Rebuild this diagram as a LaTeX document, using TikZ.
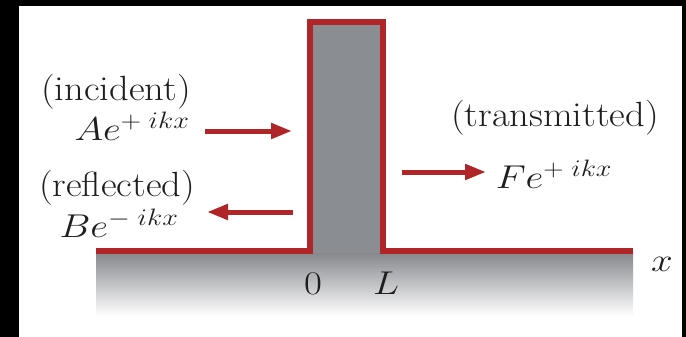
\RequirePackage{fix-cm}
\documentclass[tikz,border=0pt]{standalone}
\usepackage{fontspec}
\usepackage{graphicx}
\usetikzlibrary{arrows.meta}
\def\defaultscriptratio{.72}
\definecolor{potred}{RGB}{176,38,40}
\definecolor{bargray}{RGB}{138,141,146}
\definecolor{floortop}{RGB}{132,134,138}
\definecolor{floormid}{RGB}{176,178,181}
\definecolor{inkgray}{RGB}{30,30,30}
\newcommand\wide[1]{\scalebox{1.1}[1]{#1}}
\newcommand\widem[1]{\scalebox{1.18}[1]{#1}}
\tikzset{
  lbl/.style={inner sep=0pt, anchor=base, text=inkgray, font=\fontsize{35}{40}\selectfont\addfontfeatures{FakeBold=0.6}},
  mlbl/.style={inner sep=0pt, anchor=base, text=inkgray, font=\fontsize{33}{40}\selectfont},
  wave/.style={draw=potred, line width=5pt, -{Triangle[width=15pt,length=21pt]}},
  pot/.style={draw=potred, line width=5.5pt, line join=miter},
}
\begin{document}
\begin{tikzpicture}[x=1pt,y=-1pt]
  % frame
  \fill[black] (0,0) rectangle (686,337);
  \fill[white] (19,6) rectangle (682,337);
  \useasboundingbox (0,0) rectangle (686,337);
  % floor and barrier
  \shade[top color=floortop, middle color=floormid, bottom color=white] (96,252) rectangle (633,316);
  \fill[bargray] (310,22) rectangle (383,253);
  \draw[pot] (96,251) -- (310,251) -- (310,22) -- (383,22) -- (383,251) -- (633,251);
  % arrows
  \coordinate (incS) at (205,131);
  \coordinate (incE) at (292,131);
  \coordinate (refS) at (293,212);
  \coordinate (refE) at (207,212);
  \coordinate (traS) at (402,172);
  \coordinate (traE) at (486,172);
  \draw[wave] (incS) -- (incE);
  \draw[wave] (refS) -- (refE);
  \draw[wave] (traS) -- (traE);
  % labels
  \node[lbl] (inc) at (116,100) {\wide{(incident)}};
  \node[mlbl] (ae) at (132,140) {\widem{$Ae^{+\;ikx}$}};
  \node[lbl] (refl) at (117,196) {\wide{(reflected)}};
  \node[mlbl] (be) at (119,237) {\widem{$Be^{-\;ikx}$}};
  \node[lbl] (trans) at (555,126) {\wide{(transmitted)}};
  \node[mlbl] (fe) at (554,188) {\widem{$Fe^{+\;ikx}$}};
  \node[mlbl] (zero) at (313,294) {\widem{$0$}};
  \node[mlbl] (ell) at (386,294) {\widem{$L$}};
  \node[mlbl] (xlab) at (662,271) {\widem{$x$}};
\end{tikzpicture}
\end{document}
